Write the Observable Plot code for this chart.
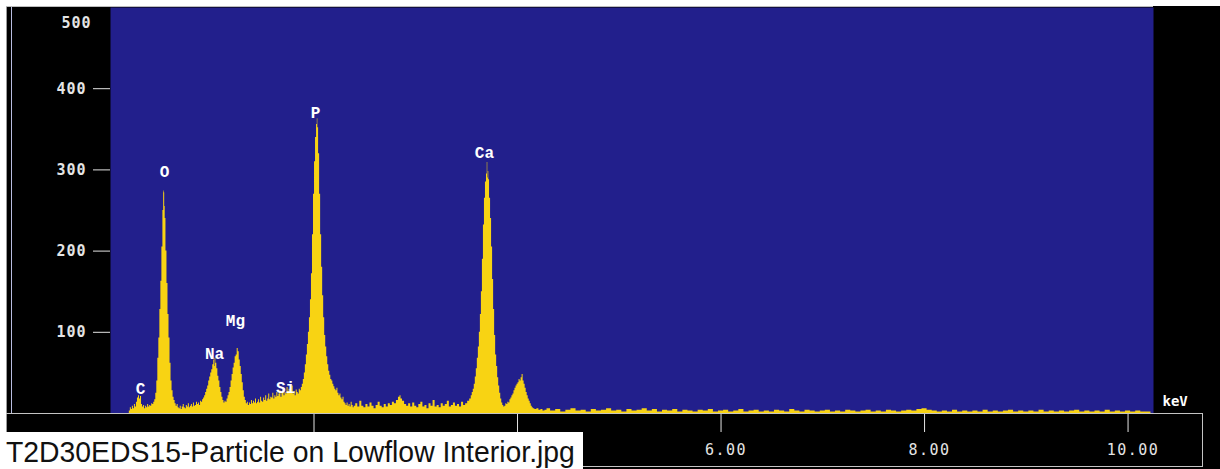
<!DOCTYPE html>
<html>
<head>
<meta charset="utf-8">
<script src="https://cdn.jsdelivr.net/npm/d3@7"></script>
<script src="https://cdn.jsdelivr.net/npm/@observablehq/plot@0.6"></script>
<style>
  html, body { margin: 0; padding: 0; background: #fff; }
  #wrap { position: relative; width: 1220px; height: 469px; background: #fff; overflow: hidden; }
  #blackbg { position: absolute; left: 6px; top: 6px; right: 0; bottom: 0; background: #000;
             border-left: 1px solid #9a9a9a; }
  #chart { position: absolute; left: 0; top: 0; }
  .ln { position: absolute; background: #c4c4c4; }
  #caption { position: absolute; left: 0; top: 432px; width: 583px; height: 37px; background: #fff; overflow: hidden; }
  #caption span { position: absolute; left: 6px; top: 5px; font-family: "Liberation Sans", Arial, sans-serif;
                  font-size: 30px; line-height: 30px; color: #111; white-space: nowrap;
                  transform: scaleX(0.945); transform-origin: left top; }
</style>
</head>
<body>
<div id="wrap">
  <div id="blackbg"></div>
  <div id="chart"></div>
  <div class="ln" style="left:6px;top:6px;width:1147px;height:1px;background:#bdbdbd"></div>
  <div class="ln" style="left:11px;top:7px;width:1px;height:406px;background:#b9bde0"></div>
  <div class="ln" style="left:6px;top:413px;width:1197px;height:1px"></div>
  <div class="ln" style="left:1202px;top:413px;width:1px;height:54px"></div>
  <div class="ln" style="left:583px;top:466px;width:620px;height:1px"></div>
  <div id="caption"><span id="captext"></span></div>
</div>
<script>
// ---- Data (keV, counts) ----
const carbonOxygen = [
  [0,0],[0.18,0],[0.19,3],[0.2,7],[0.21,5],[0.22,9],[0.23,6],[0.24,11],[0.25,8],[0.26,14],[0.27,19],[0.28,22],
  [0.29,18],[0.3,21],[0.31,11],[0.32,8],[0.33,10],[0.34,6],[0.35,9],[0.36,7],[0.37,11],[0.38,8],[0.39,10],[0.4,9],
  [0.41,12],[0.42,11],[0.43,14],[0.44,17],[0.45,25],[0.46,40],[0.47,68],[0.48,93],[0.49,128],[0.5,163],[0.51,205],
  [0.52,250],[0.525,274],[0.53,272],[0.535,255],[0.54,240],[0.55,200],[0.56,160],[0.57,122],[0.58,93],[0.59,62],
  [0.6,40],[0.61,28],[0.62,20],[0.63,16],[0.64,12],[0.65,9],[0.66,11],[0.67,7],[0.68,6],[0.69,9],[0.7,5],[0.71,8],
  [0.72,11],[0.73,7],[0.74,6],[0.75,10],[0.76,8],[0.77,12],[0.78,7],[0.79,9],[0.8,11],[0.81,8],[0.82,13],[0.83,9],
  [0.84,10],[0.85,14],[0.86,11],[0.87,13],[0.88,10],[0.89,15],[0.9,14]
];
const sodiumMagnesium = [
  [0.91,17],[0.92,19],[0.93,22],[0.94,26],[0.95,30],[0.96,34],[0.97,40],[0.98,45],[0.99,50],[1.0,54],[1.01,60],
  [1.02,66],[1.025,58],[1.03,68],[1.04,62],[1.05,55],[1.06,46],[1.07,40],[1.08,32],[1.09,26],[1.1,20],[1.11,16],
  [1.12,13],[1.13,15],[1.14,14],[1.15,18],[1.16,22],[1.17,26],[1.18,32],[1.19,40],[1.2,48],[1.21,56],[1.22,62],
  [1.23,70],[1.24,72],[1.25,80],[1.26,76],[1.27,66],[1.28,58],[1.29,48],[1.3,38],[1.31,28],[1.32,20],[1.33,16],
  [1.34,12],[1.35,14],[1.36,10],[1.37,13],[1.38,11],[1.39,16],[1.4,12]
];
const silicon = [
  [1.41,15],[1.42,13],[1.43,18],[1.44,12],[1.45,14],[1.46,17],[1.47,13],[1.48,20],[1.49,15],[1.5,14],[1.51,19],
  [1.52,16],[1.53,22],[1.54,15],[1.55,18],[1.56,24],[1.57,17],[1.58,20],[1.59,19],[1.6,25],[1.61,18],[1.62,22],
  [1.63,20],[1.64,26],[1.65,21],[1.66,24],[1.67,28],[1.68,20],[1.69,25],[1.7,30],[1.71,22],[1.72,26],[1.73,24],
  [1.74,32],[1.75,27],[1.76,30],[1.77,25],[1.78,28],[1.79,34],[1.8,24],[1.81,27],[1.82,22],[1.83,29],[1.84,26],
  [1.85,24],[1.86,30],[1.87,28],[1.88,32],[1.89,36]
];
const phosphorus = [
  [1.9,42],[1.91,50],[1.92,60],[1.93,72],[1.94,85],[1.95,100],[1.96,118],[1.97,140],[1.98,172],[1.99,220],[2.0,270],
  [2.01,310],[2.02,340],[2.03,356],[2.035,363],[2.04,352],[2.05,320],[2.06,270],[2.07,220],[2.08,180],[2.09,145],
  [2.1,118],[2.11,96],[2.12,82],[2.13,70],[2.14,60],[2.15,52],[2.16,47],[2.17,42],[2.18,40],[2.19,36],[2.2,33],
  [2.21,30],[2.22,28],[2.23,31],[2.24,25],[2.25,22],[2.26,24],[2.27,19],[2.28,17],[2.29,20],[2.3,14],[2.31,12],
  [2.32,10],[2.33,13],[2.34,9],[2.35,11],[2.36,8],[2.37,14],[2.38,10],[2.39,7],[2.4,9]
];
const midBackground = [
  [2.42,12],[2.44,8],[2.46,15],[2.48,9],[2.5,7],[2.52,11],[2.54,8],[2.56,13],[2.58,9],[2.6,6],[2.62,10],[2.64,14],
  [2.66,9],[2.68,7],[2.7,11],[2.72,8],[2.74,12],[2.76,10],[2.78,14],[2.8,12],[2.82,16],[2.84,20],[2.85,22],[2.86,18],
  [2.88,15],[2.9,11],[2.92,9],[2.94,12],[2.96,8],[2.98,13],[3.0,9],[3.02,7],[3.04,11],[3.06,14],[3.08,8],[3.1,10],
  [3.12,6],[3.14,12],[3.16,9],[3.18,16],[3.2,8],[3.22,10],[3.24,7],[3.26,12],[3.28,9],[3.3,11],[3.32,15],[3.34,8],
  [3.36,10],[3.38,13],[3.4,9],[3.42,11],[3.44,8],[3.46,14],[3.48,10],[3.5,12],[3.52,15]
];
const calcium = [
  [3.54,18],[3.55,22],[3.56,26],[3.57,30],[3.58,36],[3.59,45],[3.6,55],[3.61,68],[3.62,82],[3.63,100],[3.64,122],
  [3.65,150],[3.66,190],[3.67,232],[3.68,265],[3.69,285],[3.7,295],[3.705,309],[3.71,290],[3.715,298],[3.72,288],
  [3.73,265],[3.74,240],[3.75,205],[3.76,165],[3.77,128],[3.78,96],[3.79,72],[3.8,58],[3.81,44],[3.82,34],[3.83,25],
  [3.84,18],[3.85,13],[3.86,10],[3.87,8],[3.88,9],[3.89,12],[3.9,11],[3.91,14],[3.92,13],[3.93,17],[3.94,19],
  [3.95,22],[3.96,24],[3.97,28],[3.98,31],[3.99,34],[4.0,36],[4.01,38],[4.02,42],[4.03,40],[4.04,44],[4.05,48],
  [4.06,40],[4.07,36],[4.08,31],[4.09,26],[4.1,22],[4.11,18],[4.12,15],[4.13,12],[4.14,9],[4.15,7],[4.16,6],
  [4.18,5],[4.2,6],[4.22,4],[4.24,5],[4.26,3],[4.28,4],[4.3,6]
];
const highBackground = [
  [4.35,3],[4.4,5],[4.45,2],[4.5,4],[4.55,6],[4.6,3],[4.65,4],[4.7,2],[4.75,5],[4.8,3],[4.85,4],[4.9,6],[4.95,3],
  [5.0,4],[5.05,2],[5.1,5],[5.15,3],[5.2,4],[5.25,6],[5.3,3],[5.35,5],[5.4,2],[5.45,4],[5.5,3],[5.55,5],[5.6,2],
  [5.65,4],[5.7,3],[5.75,2],[5.8,4],[5.85,3],[5.9,5],[5.95,2],[6.0,3],[6.05,4],[6.1,2],[6.15,3],[6.2,5],[6.25,2],
  [6.3,3],[6.35,4],[6.4,2],[6.45,3],[6.5,2],[6.55,4],[6.6,3],[6.65,2],[6.7,5],[6.75,3],[6.8,2],[6.85,4],[6.9,3],
  [6.95,2],[7.0,3],[7.05,4],[7.1,2],[7.15,3],[7.2,2],[7.25,4],[7.3,3],[7.35,2],[7.4,3],[7.45,4],[7.5,2],[7.55,3],
  [7.6,2],[7.65,4],[7.7,3],[7.75,2],[7.8,3],[7.85,4],[7.9,3],[7.95,5],[8.0,6],[8.05,4],[8.1,3],[8.15,2],[8.2,3],
  [8.25,2],[8.3,4],[8.35,2],[8.4,3],[8.45,2],[8.5,3],[8.55,2],[8.6,4],[8.65,2],[8.7,3],[8.75,2],[8.8,3],[8.85,4],
  [8.9,2],[8.95,3],[9.0,2],[9.05,3],[9.1,2],[9.15,4],[9.2,2],[9.25,3],[9.3,2],[9.35,3],[9.4,2],[9.45,3],[9.5,4],
  [9.55,2],[9.6,3],[9.65,2],[9.7,3],[9.75,2],[9.8,4],[9.85,2],[9.9,3],[9.95,2],[10.0,3],[10.05,2],[10.1,3],
  [10.15,2],[10.2,2],[10.25,0]
];

// Element labels: name, energy (keV), label height (counts)
const elementNames = ["C", "O", "Na", "Mg", "Si", "P", "Ca"];
const elementKeV   = [0.295, 0.531, 1.022, 1.228, 1.72, 2.015, 3.675];
const elementLabelY = [30, 298, 74, 114, 31, 370, 321];

// Axes
const yTicks = [100, 200, 300, 400];
const yTopTick = [500];
const xTicks = [2, 4, 6, 8, 10];
const xLabelTicks = [6, 8, 10];
const xUnit = "keV";
const captionText = "T2D30EDS15-Particle on Lowflow Interior.jpg";

// ---- Build ----
const spectrum = [...carbonOxygen, ...sodiumMagnesium, ...silicon, ...phosphorus,
                  ...midBackground, ...calcium, ...highBackground].map(([e, c]) => ({e, c}));
const elements = elementNames.map((name, i) => ({name, e: elementKeV[i], c: elementLabelY[i]}));

const mono = "'DejaVu Sans Mono', monospace";
const chart = Plot.plot({
  width: 1220,
  height: 469,
  marginLeft: 110,
  marginRight: 67,
  marginTop: 7,
  marginBottom: 56,
  style: {background: "transparent", color: "#e4e4e4", overflow: "visible"},
  x: {domain: [0, 10.25]},
  y: {domain: [0, 500]},
  marks: [
    Plot.frame({fill: "#221F8C", stroke: "none"}),
    Plot.areaY(spectrum, {x: "e", y: "c", fill: "#F8D313", curve: "step"}),
    Plot.text(elements, {x: "e", y: "c", text: "name", fill: "white",
      fontFamily: "'Liberation Mono', monospace", fontWeight: "bold", fontSize: 16}),
    Plot.axisY({ticks: yTicks, tickSize: 17, tickPadding: 7, label: null,
      fontFamily: mono, fontSize: 15, fontWeight: "bold"}),
    Plot.axisY({ticks: yTopTick, tickSize: 0, tickPadding: 19, dy: 16, label: null,
      fontFamily: mono, fontSize: 15, fontWeight: "bold"}),
    Plot.axisX({ticks: xTicks, tickSize: 19, tickFormat: () => "", label: null}),
    Plot.axisX({ticks: xLabelTicks, tickSize: 0, tickPadding: 31, dx: 5, label: null,
      tickFormat: d => d.toFixed(2), fontFamily: mono, fontSize: 15}),
    Plot.text([xUnit], {frameAnchor: "bottom-right", dx: 9, dy: -8, textAnchor: "start",
      fill: "white", fontFamily: mono, fontWeight: "bold", fontSize: 14})
  ]
});
document.getElementById("chart").appendChild(chart);
d3.select(chart).selectAll('g[aria-label="y-axis tick label"]').attr("letter-spacing", "1px");
d3.select(chart).selectAll('g[aria-label="x-axis tick label"]').attr("letter-spacing", "1.5px");
document.getElementById("captext").textContent = captionText;
</script>
</body>
</html>
